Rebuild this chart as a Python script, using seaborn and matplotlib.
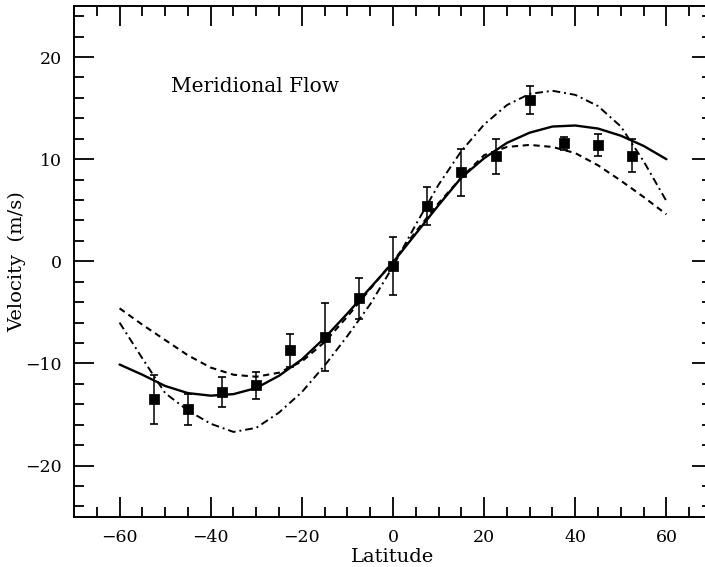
import numpy as np
import pandas as pd
import matplotlib
matplotlib.use("Agg")
import matplotlib.pyplot as plt
import seaborn as sns
from matplotlib.ticker import MultipleLocator

# ---- data ----
obs_lat = [-52.5, -45, -37.5, -30, -22.5, -15, -7.5, 0, 7.5, 15, 22.5, 30, 37.5, 45, 52.5]
obs_vel = [-13.5, -14.5, -12.8, -12.15, -8.7, -7.4, -3.6, -0.45, 5.45, 8.7, 10.3, 15.8, 11.55, 11.4, 10.35]
obs_err = [2.4, 1.5, 1.45, 1.3, 1.6, 3.3, 2.0, 2.8, 1.85, 2.3, 1.7, 1.4, 0.6, 1.1, 1.65]

curve_lat = [-60, -55, -50, -45, -40, -35, -30, -25, -20, -15, -10, -5, 0,
             5, 10, 15, 20, 25, 30, 35, 40, 45, 50, 55, 60]
solid_vel = [-10.1, -11.1, -12.2, -12.9, -13.15, -13.0, -12.4, -11.2, -9.6, -7.5, -5.1, -2.6, -0.1,
             2.7, 5.5, 8.2, 10.1, 11.6, 12.6, 13.2, 13.3, 13.0, 12.3, 11.3, 10.0]
dashed_vel = [-4.6, -6.2, -7.7, -9.2, -10.4, -11.1, -11.3, -10.9, -9.8, -7.9, -5.4, -2.7, 0.0,
              2.9, 5.7, 8.2, 10.4, 11.2, 11.4, 11.2, 10.6, 9.4, 7.9, 6.3, 4.6]
dashdot_vel = [-6.0, -9.5, -12.9, -14.6, -15.9, -16.7, -16.3, -14.8, -12.8, -10.2, -7.3, -4.2, -0.5,
               3.6, 7.5, 10.8, 13.4, 15.3, 16.4, 16.7, 16.3, 15.2, 13.2, 9.8, 5.9]

x_ticks = [-60, -40, -20, 0, 20, 40, 60]
y_ticks = [-20, -10, 0, 10, 20]

title_text = "Meridional Flow"
x_label = "Latitude"
y_label = "Velocity  (m/s)"

# ---- plotting ----
sns.set_style("ticks")
plt.rcParams['font.family'] = ['DejaVu Serif']
plt.rcParams['text.color'] = 'black'
plt.rcParams['axes.labelcolor'] = 'black'
plt.rcParams['xtick.color'] = 'black'
plt.rcParams['ytick.color'] = 'black'

fig = plt.figure(figsize=(7.05, 5.67), dpi=100)
ax = fig.add_axes([74/705, 50.3/567, 638/705, 510.7/567])

curves = pd.DataFrame({"lat": curve_lat, "solid": solid_vel,
                       "dashed": dashed_vel, "dashdot": dashdot_vel})
sns.lineplot(data=curves, x="lat", y="solid", ax=ax, color="black", lw=1.7)
sns.lineplot(data=curves, x="lat", y="dashed", ax=ax, color="black", lw=1.5,
             linestyle=(0, (3, 2.2)))
sns.lineplot(data=curves, x="lat", y="dashdot", ax=ax, color="black", lw=1.4,
             linestyle=(0, (4, 2, 1, 2)))

ax.errorbar(obs_lat, obs_vel, yerr=obs_err, fmt="none", ecolor="black",
            elinewidth=1.1, capsize=3, capthick=1.2, zorder=3)
obs = pd.DataFrame({"lat": obs_lat, "vel": obs_vel})
sns.scatterplot(data=obs, x="lat", y="vel", ax=ax, marker="s", s=45,
                color="black", edgecolor="black", zorder=4)

ax.set_xlim(-70, 70)
ax.set_ylim(-25, 25)
ax.set_xticks(x_ticks)
ax.set_yticks(y_ticks)
ax.xaxis.set_minor_locator(MultipleLocator(5))
ax.yaxis.set_minor_locator(MultipleLocator(2))
ax.tick_params(which="both", direction="in", top=True, right=True,
               width=1.3, color="black", labelsize=12.5, labelcolor="black")
ax.tick_params(which="major", length=14.5)
ax.tick_params(which="minor", length=7)
ax.tick_params(axis="x", which="major", pad=9)
ax.tick_params(axis="y", which="major", pad=9)
for s in ax.spines.values():
    s.set_linewidth(1.4)
    s.set_color("black")
    s.set_visible(True)

ax.set_xlabel(x_label, fontsize=14, labelpad=1, color="black")
ax.set_ylabel(y_label, fontsize=14, labelpad=-1, color="black")
ax.text(-48.7, 17.1, title_text, fontsize=14.5, va="center", ha="left", color="black")

fig.savefig("out.png", dpi=100)
